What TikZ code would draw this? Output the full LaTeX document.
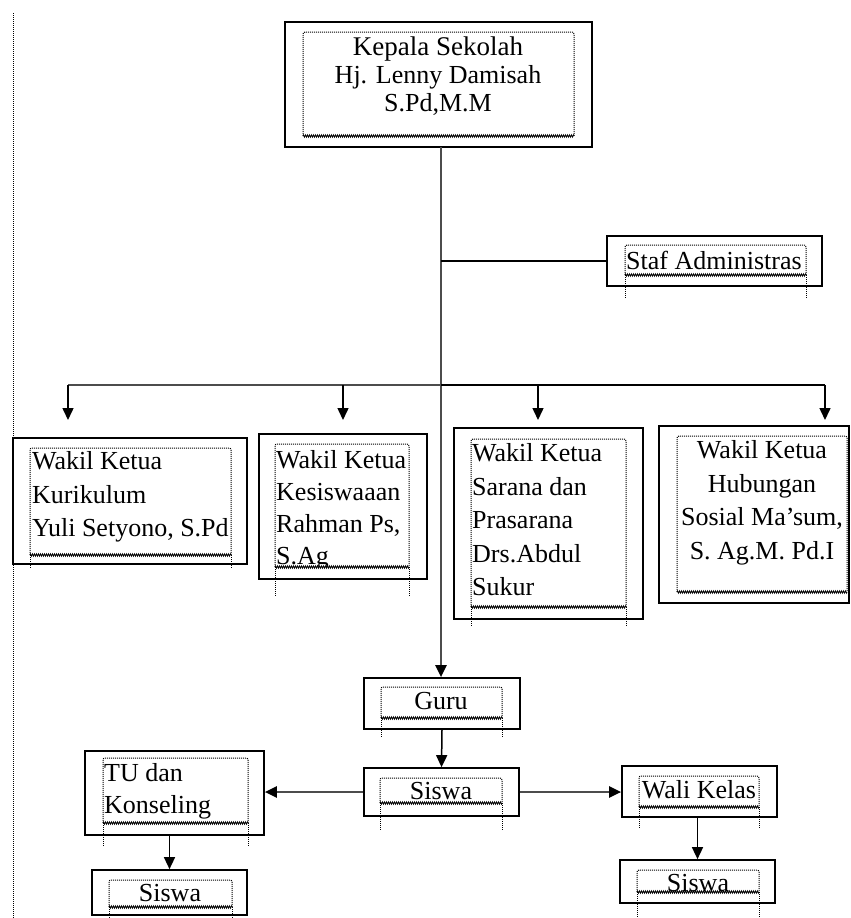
\documentclass[tikz,border=0pt]{standalone}
\usepackage{fontspec}
\setmainfont{Liberation Serif}
\usetikzlibrary{arrows.meta,fit,decorations.pathmorphing}
\newcommand\innerbox[5]{%
  \draw[dotbox] (#1,#4) -- (#1,#2) -- (#3,#2) -- (#3,#4);
  \draw[wavy] (#1,#4) -- (#3,#4);
  \draw[dotline] (#1,#4) -- (#1,#5);
  \draw[dotline] (#3,#4) -- (#3,#5);}
\begin{document}
\begin{tikzpicture}[x=1pt,y=-1pt,
  outer/.style={draw, line width=1.7pt, inner sep=0pt},
  dotbox/.style={line width=1pt, dash pattern=on 1pt off 1pt, rounded corners=2pt},
  dotline/.style={line width=1pt, dash pattern=on 1pt off 1pt},
  wavy/.style={line width=0.7pt, decorate, decoration={zigzag, amplitude=1.2pt, segment length=2pt}},
  conn/.style={line width=2.2pt, draw=black!70},
  thinconn/.style={line width=1.5pt, draw=black},
  arr/.style={conn, -{Triangle[width=11pt,length=12pt,color=black]}},
  tarr/.style={thinconn, -{Triangle[width=11pt,length=12pt,color=black]}},
  lbl/.style={inner sep=0pt, font=\fontsize{26}{#1}\selectfont},
  lbl/.default=33,
]
\useasboundingbox (0,0) rectangle (851,918);
% left page margin dotted line
\coordinate (m1) at (13,13);
\coordinate (m2) at (13,918);
\draw[dotline] (m1) -- (m2);

% ---------- boxes ----------
\node[outer, fit={(285,22)(592,147)}] (kepala) {};
\innerbox{303}{32}{574}{136}{136}
\node[lbl=28, align=center] (tkepala) at (438,76) {\fontsize{27}{28}\selectfont Kepala Sekolah\\Hj. Lenny Damisah\\S.Pd,M.M};

\node[outer, fit={(607,236)(822,286)}] (staf) {};
\innerbox{625}{245}{806}{275}{298}
\node[lbl, anchor=west] (tstaf) at (626,260) {Staf Administras};

\node[outer, fit={(13,438)(247,564)}] (w1) {};
\innerbox{30}{448}{231}{555}{568}
\node[lbl=33.5, align=left, anchor=west] (tw1) at (32,497) {Wakil Ketua\\Kurikulum\\Yuli Setyono, S.Pd};

\node[outer, fit={(259,434)(427,579)}] (w2) {};
\innerbox{275}{444}{409}{567}{597}
\begin{scope}
  \clip (275,444) rectangle (409,566);
  \node[lbl=32, align=left, anchor=west] (tw2) at (276,510) {Wakil Ketua\\Kesiswaaan\\Rahman Ps,\\S.Ag};
\end{scope}

\node[outer, fit={(454,428)(643,619)}] (w3) {};
\innerbox{471}{439}{626}{607}{627}
\node[lbl=33.5, align=left, anchor=west] (tw3) at (472,520) {Wakil Ketua\\Sarana dan\\Prasarana\\Drs.Abdul\\Sukur};

\node[outer, fit={(659,426)(849,603)}] (w4) {};
\innerbox{677}{436}{847}{592}{592}
\node[lbl=33.5, align=center] (tw4) at (762,503) {Wakil Ketua\\Hubungan\\Sosial Ma’sum,\\S. Ag.M. Pd.I};

\node[outer, fit={(364,678)(520,729)}] (guru) {};
\innerbox{381}{687}{502}{718}{737}
\node[lbl] (tguru) at (441,701) {Guru};

\node[outer, fit={(364,768)(519,816)}] (siswa) {};
\innerbox{380}{778}{502}{803}{830}
\node[lbl] (tsiswa) at (441,791) {Siswa};

\node[outer, fit={(85,751)(264,835)}] (tu) {};
\innerbox{103}{758}{248}{823}{846}
\node[lbl=32, align=left, anchor=west] (ttu) at (104,791) {TU dan\\Konseling};

\node[outer, fit={(92,870)(247,915)}] (siswaL) {};
\innerbox{109}{880}{232}{907}{918}
\node[lbl] (tsiswaL) at (170,893) {Siswa};

\node[outer, fit={(622,766)(777,817)}] (wali) {};
\innerbox{639}{776}{759}{807}{828}
\node[lbl] (twali) at (699,790) {Wali Kelas};

\node[outer, fit={(620,860)(775,903)}] (siswaR) {};
\innerbox{637}{870}{759}{892}{918}
\node[lbl] (tsiswaR) at (698,883) {Siswa};

% ---------- connectors ----------
\coordinate (trunkTop) at (441,147);
\coordinate (j) at (441,385);
\coordinate (bL) at (68,385);
\coordinate (bR) at (825,385);
\coordinate (a1) at (68,420);
\coordinate (a2) at (343,420);
\coordinate (a3) at (538,420);
\coordinate (a4) at (825,420);
\coordinate (s2) at (343,385);
\coordinate (s3) at (538,385);

\draw[arr] (trunkTop) -- (trunkTop |- guru.north);
\draw[thinconn] (trunkTop |- staf.west) -- (staf.west);
\draw[conn] (bL) -- (j);
\draw[thinconn] (j) -- (bR);
\draw[tarr] (bL) -- (a1);
\draw[tarr] (s2) -- (a2);
\draw[tarr] (s3) -- (a3);
\draw[tarr] (bR) -- (a4);

\draw[tarr] (guru.south) -- (siswa.north);
\draw[arr] (siswa.west) -- (siswa.west -| tu.east);
\draw[arr] (siswa.east) -- (siswa.east -| wali.west);
\draw[tarr] (siswaL.north |- tu.south) -- (siswaL.north);
\draw[tarr] (siswaR.north |- wali.south) -- (siswaR.north);
\end{tikzpicture}
\end{document}
